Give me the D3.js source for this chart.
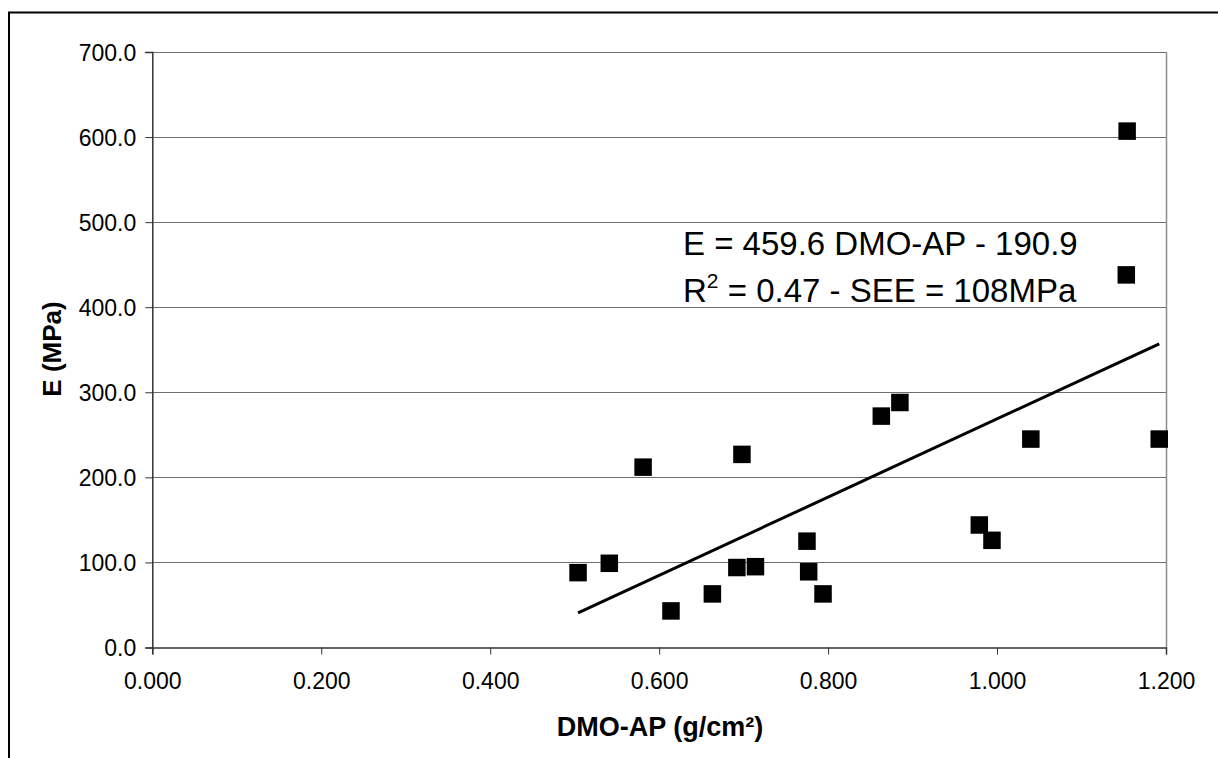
<!DOCTYPE html>
<html>
<head>
<meta charset="utf-8">
<script src="https://cdn.jsdelivr.net/npm/d3@7"></script>
<style>
  html, body { margin: 0; padding: 0; background: #fff; }
  svg { display: block; }
  text { font-family: "Liberation Sans", Arial, sans-serif; fill: #000; }
</style>
</head>
<body>
<svg id="chart" width="1218" height="758"></svg>
<script>
// ---- data ----
const dmoAP = [0.504, 0.541, 0.581, 0.614, 0.663, 0.692, 0.714, 0.698, 0.775, 0.777, 0.794, 0.863, 0.885, 0.979, 0.994, 1.040, 1.153, 1.154, 1.192];
const modulusE = [88, 99, 212, 43, 63, 94, 95, 227, 125, 89, 63, 272, 288, 144, 126, 245, 438, 607, 245];
const xTicks = [0, 0.2, 0.4, 0.6, 0.8, 1.0, 1.2];
const yTicks = [0, 100, 200, 300, 400, 500, 600, 700];
const trendSlope = 459.6;
const trendIntercept = -190.9;
const eqLine1 = "E = 459.6 DMO-AP - 190.9";
const xTitle = "DMO-AP (g/cm²)";
const yTitle = "E (MPa)";

const svg = d3.select("#chart");

// outer frame
svg.append("rect")
  .attr("x", 9).attr("y", 12.5)
  .attr("width", 1240).attr("height", 800)
  .attr("fill", "none").attr("stroke", "#000").attr("stroke-width", 2);

const L = 152.3, R = 1166, T = 52, B = 647.5;
const x = d3.scaleLinear().domain([0, 1.2]).range([L, R]);
const y = d3.scaleLinear().domain([0, 700]).range([B, T]);

// gridlines
svg.append("g").selectAll("line").data(yTicks.filter(d => d > 0)).join("line")
  .attr("x1", L).attr("x2", R)
  .attr("y1", d => Math.round(y(d)) + 0.5).attr("y2", d => Math.round(y(d)) + 0.5)
  .attr("stroke", "#6e6e6e").attr("stroke-width", 1);

// right border of plot area
svg.append("line")
  .attr("x1", R + 0.5).attr("x2", R + 0.5).attr("y1", T).attr("y2", B)
  .attr("stroke", "#8c8c8c").attr("stroke-width", 1.5);

// Y axis
const yAxis = d3.axisLeft(y).tickValues(yTicks).tickFormat(d3.format(".1f")).tickSize(7).tickPadding(9);
const gy = svg.append("g").attr("transform", `translate(${L},0)`).call(yAxis);
gy.select(".domain").attr("stroke", "#333").attr("stroke-width", 1.5);
gy.selectAll(".tick line").attr("stroke", "#333");
gy.selectAll(".tick text").attr("font-size", 23).attr("font-family", "Liberation Sans, Arial, sans-serif").attr("fill", "#000").attr("dy", "0.36em");

// X axis
const xAxis = d3.axisBottom(x).tickValues(xTicks).tickFormat(d3.format(".3f")).tickSize(7).tickPadding(18);
const gx = svg.append("g").attr("transform", `translate(0,${B})`).call(xAxis);
gx.select(".domain").attr("stroke", "#333").attr("stroke-width", 1.5);
gx.selectAll(".tick line").attr("stroke", "#333");
gx.selectAll(".tick text").attr("font-size", 23).attr("font-family", "Liberation Sans, Arial, sans-serif").attr("fill", "#000");

// trend line
const xMin = d3.min(dmoAP), xMax = d3.max(dmoAP);
svg.append("line")
  .attr("x1", x(xMin)).attr("y1", y(trendSlope * xMin + trendIntercept))
  .attr("x2", x(xMax)).attr("y2", y(trendSlope * xMax + trendIntercept))
  .attr("stroke", "#000").attr("stroke-width", 3);

// markers
const S = 17.5;
svg.append("g").selectAll("rect").data(dmoAP.map((d, i) => [d, modulusE[i]])).join("rect")
  .attr("x", d => x(d[0]) - S / 2).attr("y", d => y(d[1]) - S / 2)
  .attr("width", S).attr("height", S)
  .attr("fill", "#000");

// equation text
svg.append("text").attr("x", 683).attr("y", 255).attr("font-size", 33).text(eqLine1);
const t2 = svg.append("text").attr("x", 683).attr("y", 301.5).attr("font-size", 33);
t2.append("tspan").text("R");
t2.append("tspan").attr("font-size", 21).attr("dy", -14).text("2");
t2.append("tspan").attr("dy", 14).text(" = 0.47 - SEE = 108MPa");

// axis titles
svg.append("text").attr("x", 660).attr("y", 736).attr("text-anchor", "middle")
  .attr("font-size", 27).attr("font-weight", "bold").text(xTitle);
svg.append("text").attr("transform", "translate(61,349) rotate(-90)").attr("text-anchor", "middle")
  .attr("font-size", 26).attr("font-weight", "bold").text(yTitle);
</script>
</body>
</html>
